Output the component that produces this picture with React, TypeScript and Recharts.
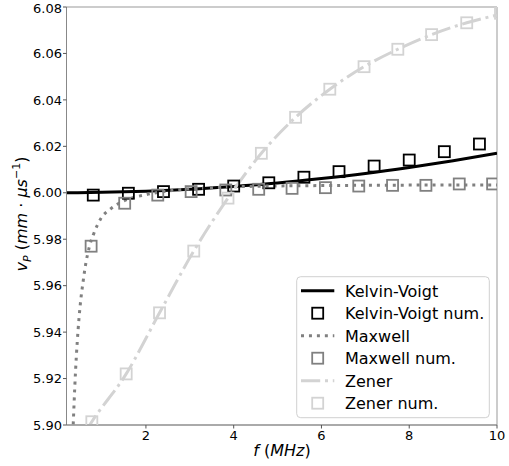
import React from 'react';
import { ComposedChart, Line, Scatter, XAxis, YAxis, ReferenceArea } from 'recharts';

// Kelvin-Voigt analytical curve
const kvLineF = [0.19, 1, 2, 3, 4, 5, 6, 7, 8, 9, 10];
const kvLineV = [6.0, 6.0002, 6.0007, 6.0015, 6.0027, 6.0042, 6.0061, 6.0083, 6.0109, 6.0138, 6.017];
// Kelvin-Voigt numerical
const kvNumF = [0.8, 1.6, 2.4, 3.2, 4.0, 4.8, 5.6, 6.4, 7.2, 8.0, 8.8, 9.6];
const kvNumV = [5.999, 5.9998, 6.0005, 6.0015, 6.0029, 6.0043, 6.0067, 6.0091, 6.0115, 6.0141, 6.0177, 6.021];
// Maxwell analytical curve
const mxLineF = [0.32, 0.347, 0.379, 0.416, 0.454, 0.5, 0.568, 0.621, 0.712, 0.813, 0.963, 1.21, 1.5, 2.0, 2.7, 3.5, 4.5, 6, 8, 10];
const mxLineV = [5.89, 5.9021, 5.9165, 5.9301, 5.9409, 5.9512, 5.9617, 5.9686, 5.9768, 5.9825, 5.9886, 5.9933, 5.9965, 5.9992, 6.0012, 6.0022, 6.0028, 6.0031, 6.0033, 6.0034];
// Maxwell numerical
const mxNumF = [0.751, 1.516, 2.27, 3.03, 3.82, 4.57, 5.33, 6.09, 6.85, 7.62, 8.38, 9.14, 9.9];
const mxNumV = [5.977, 5.9955, 5.999, 6.0005, 6.0012, 6.0015, 6.0019, 6.0022, 6.0029, 6.0032, 6.0032, 6.0038, 6.0038];
// Zener analytical curve
const znLineF = [0.62, 0.767, 1.55, 2.31, 3.09, 3.87, 4.63, 5.41, 6.19, 6.97, 7.74, 8.51, 9.31, 10.0];
const znLineV = [5.897, 5.9014, 5.922, 5.9483, 5.9749, 5.9977, 6.017, 6.0325, 6.0446, 6.0543, 6.0618, 6.0681, 6.0732, 6.0765];
// Zener numerical
const znNumF = [0.767, 1.55, 2.31, 3.09, 3.87, 4.63, 5.41, 6.19, 6.97, 7.74, 8.51, 9.31, 10.08];
const znNumV = [5.9014, 5.922, 5.9483, 5.9749, 5.9977, 6.017, 6.0325, 6.0446, 6.0543, 6.0618, 6.0681, 6.0732, 6.0773];

const xTicks = [2, 4, 6, 8, 10];
const yTicks = [5.9, 5.92, 5.94, 5.96, 5.98, 6.0, 6.02, 6.04, 6.06, 6.08];
const xDomain: [number, number] = [0.19, 10.0];
const yDomain: [number, number] = [5.9, 6.08];

const zip = (fs: number[], vs: number[]) => fs.map((f, i) => ({ f, v: vs[i] }));

const kvLine = zip(kvLineF, kvLineV);
const kvNum = zip(kvNumF, kvNumV);
const mxLine = zip(mxLineF, mxLineV);
const mxNum = zip(mxNumF, mxNumV);
const znLine = zip(znLineF, znLineV);
const znNum = zip(znNumF, znNumV);

const FONT = '"DejaVu Sans", sans-serif';
const BLACK = '#000000';
const GRAY = '#808080';
const LIGHT = '#d3d3d3';

const squareShape = (color: string) => (props: any) => {
  const { cx, cy } = props;
  if (cx == null || cy == null) return <g />;
  return <rect x={cx - 5.5} y={cy - 5.5} width={11} height={11} fill="none" stroke={color} strokeWidth={1.8} />;
};

const legendRows = [
  { label: 'Kelvin-Voigt', kind: 'line', color: BLACK, dash: undefined as string | undefined },
  { label: 'Kelvin-Voigt num.', kind: 'square', color: BLACK, dash: undefined },
  { label: 'Maxwell', kind: 'line', color: GRAY, dash: '3 4.95' },
  { label: 'Maxwell num.', kind: 'square', color: GRAY, dash: undefined },
  { label: 'Zener', kind: 'line', color: LIGHT, dash: '19.2 4.8 3 4.8' },
  { label: 'Zener num.', kind: 'square', color: LIGHT, dash: undefined },
];

export default function App() {
  return (
    <div style={{ position: 'absolute', left: 0, top: 0, width: 509, height: 466, background: '#fff' }}>
      <ComposedChart width={509} height={466} margin={{ top: 7, right: 12, bottom: 0, left: 0 }}>
        <XAxis
          dataKey="f"
          type="number"
          domain={xDomain}
          ticks={xTicks}
          allowDataOverflow
          height={41}
          stroke="#888"
          tickSize={3.5}
          tickMargin={2}
          tick={{ fill: '#000', fontSize: 13, fontFamily: FONT }}
          tickLine={{ stroke: '#555' }}
        />
        <YAxis
          type="number"
          domain={yDomain}
          ticks={yTicks}
          allowDataOverflow
          width={66.5}
          stroke="#888"
          tickSize={3.5}
          tickMargin={1}
          tickFormatter={(v: number) => v.toFixed(2)}
          tick={{ fill: '#000', fontSize: 13, fontFamily: FONT }}
          tickLine={{ stroke: '#555' }}
        />
        <ReferenceArea x1={xDomain[0]} x2={xDomain[1]} y1={yDomain[0]} y2={yDomain[1]} fill="none" stroke="#999" strokeWidth={1} />
        <Line data={kvLine} dataKey="v" type="monotone" stroke={BLACK} strokeWidth={3} dot={false} isAnimationActive={false} />
        <Scatter data={kvNum} dataKey="v" shape={squareShape(BLACK)} isAnimationActive={false} />
        <Line data={mxLine} dataKey="v" type="monotone" stroke={GRAY} strokeWidth={3} strokeDasharray="3 4.95" dot={false} isAnimationActive={false} />
        <Scatter data={mxNum} dataKey="v" shape={squareShape(GRAY)} isAnimationActive={false} />
        <Line data={znLine} dataKey="v" type="monotone" stroke={LIGHT} strokeWidth={3} strokeDasharray="19.2 4.8 3 4.8" dot={false} isAnimationActive={false} />
        <Scatter data={znNum} dataKey="v" shape={squareShape(LIGHT)} isAnimationActive={false} />
      </ComposedChart>
      <svg width={509} height={466} style={{ position: 'absolute', left: 0, top: 0, pointerEvents: 'none' }}>
        <text x={282} y={456} textAnchor="middle" fontFamily={FONT} fontSize={16} fill="#000">
          <tspan fontStyle="italic">f</tspan>
          <tspan> (</tspan>
          <tspan fontStyle="italic">MHz</tspan>
          <tspan>)</tspan>
        </text>
        <text transform="translate(27,214) rotate(-90)" textAnchor="middle" fontFamily={FONT} fontSize={16} fill="#000">
          <tspan fontStyle="italic">v</tspan>
          <tspan fontStyle="italic" fontSize={11} dy={4}>P</tspan>
          <tspan dy={-4}> (</tspan>
          <tspan fontStyle="italic">mm</tspan>
          <tspan> · </tspan>
          <tspan fontStyle="italic">μs</tspan>
          <tspan fontSize={11} dy={-7}>−1</tspan>
          <tspan dy={7}>)</tspan>
        </text>
        <rect x={296.7} y={276.7} width={192.6} height={141} rx={4} ry={4} fill="#fff" fillOpacity={0.8} stroke="#d0d0d0" strokeWidth={1} />
        {legendRows.map((r, i) => {
          const cy = 290.7 + i * 22.5;
          return (
            <g key={r.label}>
              {r.kind === 'line' ? (
                <line x1={301} x2={334.3} y1={cy} y2={cy} stroke={r.color} strokeWidth={3} strokeDasharray={r.dash} />
              ) : (
                <rect x={312.2} y={cy - 5.5} width={11} height={11} fill="none" stroke={r.color} strokeWidth={1.8} />
              )}
              <text x={345} y={cy + 5.8} fontFamily={FONT} fontSize={16} fill="#000">{r.label}</text>
            </g>
          );
        })}
      </svg>
    </div>
  );
}
